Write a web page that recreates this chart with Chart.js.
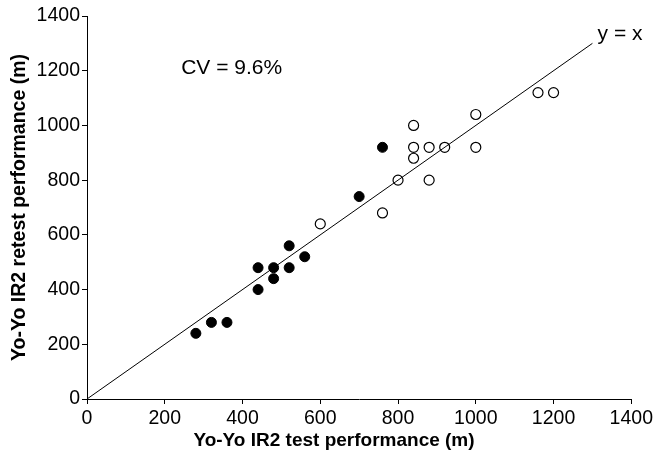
<!DOCTYPE html>
<html>
<head>
<meta charset="utf-8">
<script src="https://cdn.jsdelivr.net/npm/chart.js@4"></script>
<style>
html,body{margin:0;padding:0;background:#fff;}
#wrap{width:656px;height:458px;}
</style>
</head>
<body>
<div id="wrap"><canvas id="c" width="656" height="458"></canvas></div>
<script>
// Filled circles (test, retest)
const filledTest   = [280, 320, 360, 440, 440, 480, 480, 520, 520, 560, 700, 760];
const filledRetest = [240, 280, 280, 480, 400, 480, 440, 560, 480, 520, 740, 920];
// Open circles (test, retest)
const openTest   = [600, 760, 800, 840, 840, 840, 880, 880, 920, 1000, 1000, 1160, 1200];
const openRetest = [640, 680, 800, 1000, 920, 880, 920, 800, 920, 1040, 920, 1120, 1120];
// Identity line
const identityX = [0, 1300];
const tickValues = [0, 200, 400, 600, 800, 1000, 1200, 1400];
const xTitle = 'Yo-Yo IR2 test performance (m)';
const yTitle = 'Yo-Yo IR2 retest performance (m)';
const cvLabel = 'CV = 9.6%';
const cvPos = [372, 1210];
const lineLabel = 'y = x';
const lineLabelPos = [1371, 1333];

const FONT = 'Arial, "Liberation Sans", sans-serif';

const toPts = (xs, ys) => xs.map((x, i) => ({x: x, y: ys[i]}));

const textPlugin = {
  id: 'texts',
  afterDatasetsDraw(chart) {
    const {ctx, scales} = chart;
    ctx.save();
    ctx.fillStyle = '#000';
    ctx.font = '21px ' + FONT;
    ctx.textAlign = 'center';
    ctx.textBaseline = 'middle';
    ctx.fillText(cvLabel, scales.x.getPixelForValue(cvPos[0]), scales.y.getPixelForValue(cvPos[1]));
    ctx.fillText(lineLabel, scales.x.getPixelForValue(lineLabelPos[0]), scales.y.getPixelForValue(lineLabelPos[1]));
    // x-axis title (centred slightly left of the plot area, as in the original)
    ctx.font = 'bold 19px ' + FONT;
    ctx.fillText(xTitle, chart.width / 2 + 6, chart.height - 17);
    ctx.restore();
  }
};

const axisCommon = {
  type: 'linear',
  min: 0, max: 1400,
  grid: {display: true, drawOnChartArea: false, drawTicks: true, tickLength: 5, color: '#000', lineWidth: 1},
  border: {display: true, color: '#000', width: 1},
};
const tickFmt = v => String(v);

new Chart(document.getElementById('c'), {
  type: 'scatter',
  data: {
    datasets: [
      {
        type: 'line',
        data: toPts(identityX, identityX),
        borderColor: '#000', borderWidth: 1, pointRadius: 0, fill: false
      },
      {
        data: toPts(filledTest, filledRetest),
        pointRadius: 5, pointBackgroundColor: '#000', pointBorderColor: '#000', pointBorderWidth: 1
      },
      {
        data: toPts(openTest, openRetest),
        pointRadius: 5, pointBackgroundColor: '#fff', pointBorderColor: '#000', pointBorderWidth: 1.2
      }
    ]
  },
  options: {
    responsive: false,
    animation: false,
    devicePixelRatio: 1,
    layout: {padding: {left: 0, right: 22, top: 16, bottom: 0}},
    plugins: {legend: {display: false}, tooltip: {enabled: false}},
    scales: {
      x: Object.assign({}, axisCommon, {
        afterBuildTicks(s) { s.ticks = tickValues.map(v => ({value: v})); },
        afterFit(s) { s.height = 59; },
        ticks: {color: '#000', font: {family: FONT, size: 19.5}, padding: 3, maxRotation: 0, autoSkip: false, callback: tickFmt},
        title: {display: false, text: xTitle}
      }),
      y: Object.assign({}, axisCommon, {
        afterBuildTicks(s) { s.ticks = tickValues.map(v => ({value: v})); },
        afterFit(s) { s.width = 87; },
        ticks: {color: '#000', font: {family: FONT, size: 19.5}, padding: 2, autoSkip: false, callback: tickFmt},
        title: {display: true, text: yTitle, color: '#000', font: {family: FONT, size: 19.5, weight: 'bold'}, padding: {top: 8, bottom: 0}}
      })
    }
  },
  plugins: [textPlugin]
});
</script>
</body>
</html>
